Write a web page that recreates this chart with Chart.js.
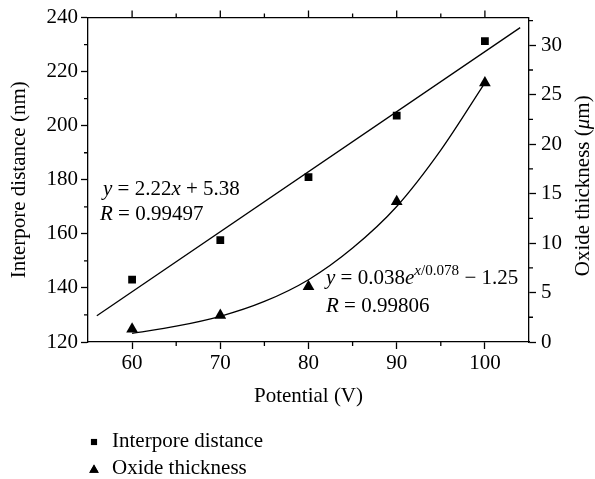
<!DOCTYPE html>
<html>
<head>
<meta charset="utf-8">
<script src="https://cdn.jsdelivr.net/npm/chart.js@4/dist/chart.umd.min.js"></script>
<style>
  body { margin: 0; background: #fff; }
  #wrap { position: relative; width: 595px; height: 479px; }
  #legend { position: absolute; left: 87px; top: 427px; font: 21px "Liberation Serif", serif; color: #000; }
  #legend div { height: 27px; line-height: 27px; }
  #legend canvas { vertical-align: middle; margin-right: 11px; }
</style>
</head>
<body>
<div id="wrap">
  <canvas id="myChart" width="595" height="479"></canvas>
  <div id="legend"></div>
</div>
<script>
// Values
var potential = [60, 70, 80, 90, 100];
var interporeDistance = [143.1, 157.7, 181.0, 203.7, 231.3];   // nm, left axis
var oxideThickness = [1.3, 2.7, 5.6, 14.2, 26.2];               // um, right axis

// fitted curves as drawn in the figure
var linFitX = [56, 104];
var linFitY = [129.7, 236.3];
var expFitX = [60, 65, 70, 75, 80, 85, 90, 95, 100];
var expFitY = [0.88, 1.6, 2.6, 4.1, 6.3, 9.5, 13.7, 19.4, 26.2];

// axis ticks
var xMajor = [60, 70, 80, 90, 100];
var xMinor = [65, 75, 85, 95];
var yLeftMinor = [130, 150, 170, 190, 210, 230];
var yRightMinor = [2.5, 7.5, 12.5, 17.5, 22.5, 27.5, 32.5];

var FONT = '"Liberation Serif", "Times New Roman", serif';
var FS = 21;

function toPoints(xs, ys) {
    return xs.map(function(x, i) { return {x: x, y: ys[i]}; });
}

// text with italic pieces and a superscript
function drawRich(ctx, x, y, parts, size) {
    parts.forEach(function(p) {
        var fs = p.sup ? size * 0.72 : size;
        ctx.font = (p.it ? 'italic ' : '') + fs + 'px ' + FONT;
        ctx.fillText(p.t, x, y - (p.sup ? size * 0.42 : 0));
        x += ctx.measureText(p.t).width;
    });
    return x;
}

var extras = {
    id: 'extras',
    afterDraw: function(chart) {
        var ctx = chart.ctx;
        var a = chart.chartArea;
        var sx = chart.scales.x, sy = chart.scales.y, sy2 = chart.scales.y2;
        ctx.save();
        ctx.strokeStyle = '#000';
        ctx.lineWidth = 1.3;
        // top frame line with outward ticks
        ctx.beginPath();
        ctx.moveTo(a.left, a.top);
        ctx.lineTo(a.right, a.top);
        xMajor.forEach(function(v) {
            var px = sx.getPixelForValue(v);
            ctx.moveTo(px, a.top); ctx.lineTo(px, a.top - 7);
        });
        xMinor.forEach(function(v) {
            var px = sx.getPixelForValue(v);
            ctx.moveTo(px, a.top); ctx.lineTo(px, a.top - 4);
            ctx.moveTo(px, a.bottom); ctx.lineTo(px, a.bottom + 4);
        });
        yLeftMinor.forEach(function(v) {
            var py = sy.getPixelForValue(v);
            ctx.moveTo(a.left, py); ctx.lineTo(a.left - 4, py);
        });
        yRightMinor.forEach(function(v) {
            var py = sy2.getPixelForValue(v);
            ctx.moveTo(a.right, py); ctx.lineTo(a.right + 4, py);
        });
        ctx.stroke();

        // right axis title, reading bottom to top
        ctx.fillStyle = '#000';
        ctx.translate(583, (a.top + a.bottom) / 2 + 6);
        ctx.rotate(-Math.PI / 2);
        ctx.textBaseline = 'middle';
        var parts = [{t: 'Oxide thickness ('}, {t: 'μ', it: true}, {t: 'm)'}];
        var w = 0;
        parts.forEach(function(p) {
            ctx.font = (p.it ? 'italic ' : '') + FS + 'px ' + FONT;
            w += ctx.measureText(p.t).width;
        });
        ctx.textAlign = 'left';
        drawRich(ctx, -w / 2, 0, parts, FS);
        ctx.restore();

        // fit equations
        ctx.save();
        ctx.fillStyle = '#000';
        ctx.textBaseline = 'alphabetic';
        drawRich(ctx, 103, 195, [{t: 'y', it: true}, {t: ' = 2.22'}, {t: 'x', it: true}, {t: ' + 5.38'}], FS);
        drawRich(ctx, 100, 220, [{t: 'R', it: true}, {t: ' = 0.99497'}], FS);
        drawRich(ctx, 326, 284, [{t: 'y', it: true}, {t: ' = 0.038'}, {t: 'e', it: true},
            {t: 'x', it: true, sup: true}, {t: '/0.078', sup: true}, {t: ' − 1.25'}], FS);
        drawRich(ctx, 326, 312, [{t: 'R', it: true}, {t: ' = 0.99806'}], FS);
        ctx.restore();
    }
};

var ctx = document.getElementById('myChart').getContext('2d');
var chart = new Chart(ctx, {
    data: {
        datasets: [
            {
                type: 'line',
                label: 'linear fit',
                data: toPoints(linFitX, linFitY),
                yAxisID: 'y',
                borderColor: '#000',
                borderWidth: 1.3,
                pointRadius: 0,
                fill: false
            },
            {
                type: 'line',
                label: 'exponential fit',
                data: toPoints(expFitX, expFitY),
                yAxisID: 'y2',
                borderColor: '#000',
                borderWidth: 1.3,
                pointRadius: 0,
                cubicInterpolationMode: 'monotone',
                fill: false
            },
            {
                type: 'scatter',
                label: 'Interpore distance',
                data: toPoints(potential, interporeDistance),
                yAxisID: 'y',
                pointStyle: 'rect',
                pointRadius: 5.5,
                backgroundColor: '#000',
                borderColor: '#000',
                borderWidth: 0
            },
            {
                type: 'scatter',
                label: 'Oxide thickness',
                data: toPoints(potential, oxideThickness),
                yAxisID: 'y2',
                pointStyle: 'triangle',
                pointRadius: 6.8,
                backgroundColor: '#000',
                borderColor: '#000',
                borderWidth: 0
            }
        ]
    },
    options: {
        responsive: false,
        animation: false,
        layout: { padding: { top: 17, left: 0, right: 0, bottom: 69 } },
        plugins: { legend: { display: false }, tooltip: { enabled: false } },
        scales: {
            x: {
                type: 'linear',
                min: 55,
                max: 105,
                afterBuildTicks: function(s) {
                    s.ticks = xMajor.map(function(v) { return {value: v}; });
                },
                afterFit: function(s) { s.height = 68; },
                ticks: { color: '#000', font: { family: FONT, size: FS }, padding: 2, maxRotation: 0 },
                grid: { drawOnChartArea: false, tickLength: 7, tickColor: '#000', tickWidth: 1.3 },
                border: { color: '#000', width: 1.3 },
                title: { display: true, text: 'Potential (V)', color: '#000', font: { family: FONT, size: FS }, padding: { top: 0, bottom: 1 } }
            },
            y: {
                position: 'left',
                min: 120,
                max: 240,
                ticks: { stepSize: 20, color: '#000', font: { family: FONT, size: FS }, padding: 3 },
                afterFit: function(s) { s.width = 88; },
                grid: { drawOnChartArea: false, tickLength: 7, tickColor: '#000', tickWidth: 1.3 },
                border: { color: '#000', width: 1.3 },
                title: { display: true, text: 'Interpore distance (nm)', color: '#000', font: { family: FONT, size: FS }, padding: { top: 7, bottom: 0 } }
            },
            y2: {
                position: 'right',
                min: 0,
                max: 32.8,
                afterBuildTicks: function(s) {
                    s.ticks = s.ticks.filter(function(t) { return t.value % 5 === 0; });
                },
                afterFit: function(s) { s.width = 66; },
                ticks: { stepSize: 5, color: '#000', font: { family: FONT, size: FS }, padding: 5 },
                grid: { drawOnChartArea: false, tickLength: 7, tickColor: '#000', tickWidth: 1.3 },
                border: { color: '#000', width: 1.3 }
            }
        }
    },
    plugins: [extras]
});

// legend below the chart, built from the marker datasets
var legendEl = document.getElementById('legend');
chart.data.datasets.slice(2).forEach(function(ds) {
    var row = document.createElement('div');
    var icon = document.createElement('canvas');
    icon.width = 14; icon.height = 14;
    var ictx = icon.getContext('2d');
    ictx.fillStyle = '#000';
    Chart.helpers.drawPoint(ictx, { pointStyle: ds.pointStyle, radius: ds.pointStyle === 'rect' ? 4.3 : 5.5, borderWidth: 0 }, 7, ds.pointStyle === 'rect' ? 7 : 8);
    ictx.fill();
    row.appendChild(icon);
    row.appendChild(document.createTextNode(ds.label));
    legendEl.appendChild(row);
});
</script>
</body>
</html>
